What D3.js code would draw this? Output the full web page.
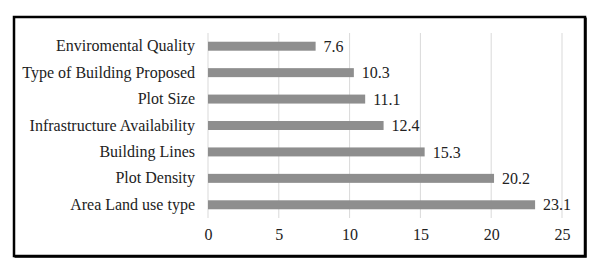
<!DOCTYPE html>
<html>
<head>
<meta charset="utf-8">
<script src="https://cdn.jsdelivr.net/npm/d3@7"></script>
<style>
  body { margin: 0; background: #fff; }
</style>
</head>
<body>
<svg width="599" height="273"></svg>
<script>
// categories, top to bottom
const categories = ["Enviromental Quality", "Type of Building Proposed", "Plot Size",
  "Infrastructure Availability", "Building Lines", "Plot Density", "Area Land use type"];
const values = [7.6, 10.3, 11.1, 12.4, 15.3, 20.2, 23.1];
const xTicks = [0, 5, 10, 15, 20, 25];

const font = "\"Liberation Serif\", \"Times New Roman\", serif";
const fs = "16px";

const svg = d3.select("svg");

// outer frame (slightly heavier on right/bottom like the original)
svg.append("rect")
  .attr("x", 14).attr("y", 17)
  .attr("width", 571).attr("height", 239)
  .attr("fill", "none").attr("stroke", "#000").attr("stroke-width", 2.5);
svg.append("path")
  .attr("d", "M586,17.5V257H14.5")
  .attr("fill", "none").attr("stroke", "#000").attr("stroke-width", 1.5);

const x = d3.scaleLinear().domain([0, 25]).range([208, 562]);
const y = d3.scaleBand().domain(categories).range([33, 218]).paddingInner(0.66).paddingOuter(0.33);

// gridlines
svg.append("g")
  .selectAll("line")
  .data(xTicks)
  .enter()
  .append("line")
  .attr("x1", d => x(d)).attr("x2", d => x(d))
  .attr("y1", 33).attr("y2", 218)
  .attr("stroke", "#d9d9d9").attr("stroke-width", 1);

// bars
svg.selectAll("rect.bar")
  .data(values)
  .enter()
  .append("rect")
  .attr("class", "bar")
  .attr("x", x(0))
  .attr("y", (d, i) => y(categories[i]))
  .attr("width", d => x(d) - x(0))
  .attr("height", y.bandwidth())
  .attr("fill", "#8e8e8e");

// value labels
svg.selectAll("text.val")
  .data(values)
  .enter()
  .append("text")
  .attr("class", "val")
  .attr("x", d => x(d) + 8)
  .attr("y", (d, i) => y(categories[i]) + y.bandwidth() / 2)
  .attr("dy", "0.35em")
  .style("font-family", font)
  .style("font-size", fs)
  .attr("fill", "#222")
  .text(d => d.toFixed(1));

// y axis labels
const yAxis = svg.append("g")
  .attr("transform", "translate(208,0)")
  .call(d3.axisLeft(y).tickSize(0).tickPadding(13));
yAxis.select(".domain").remove();
yAxis.selectAll("text").style("font-size", fs).style("font-family", font).attr("fill", "#222");

// x axis labels
const xAxis = svg.append("g")
  .attr("transform", "translate(0,226)")
  .call(d3.axisBottom(x).tickValues(xTicks).tickSize(0).tickPadding(3));
xAxis.select(".domain").remove();
xAxis.selectAll("text").style("font-size", fs).style("font-family", font).attr("fill", "#222");
</script>
</body>
</html>
